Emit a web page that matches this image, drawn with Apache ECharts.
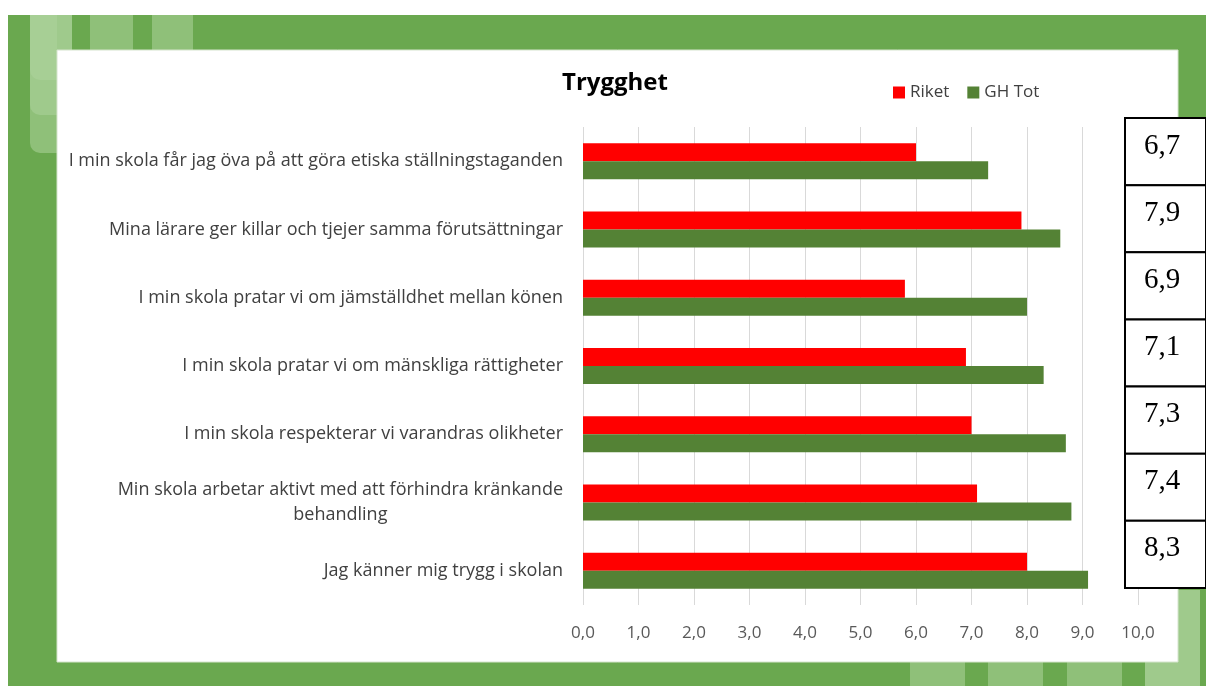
<!DOCTYPE html>
<html>
<head>
<meta charset="utf-8">
<title>Trygghet</title>
<script src="https://cdn.jsdelivr.net/npm/echarts@6/dist/echarts.min.js"></script>
<style>
  html, body { margin: 0; padding: 0; background: #fff; }
  #chart { width: 1206px; height: 686px; }
</style>
</head>
<body>
<div id="chart"></div>
<script>
// Trygghet: Riket jämfört med GH Tot

const categories = [
  'I min skola får jag öva på att göra etiska ställningstaganden',
  'Mina lärare ger killar och tjejer samma förutsättningar',
  'I min skola pratar vi om jämställdhet mellan könen',
  'I min skola pratar vi om mänskliga rättigheter',
  'I min skola respekterar vi varandras olikheter',
  'Min skola arbetar aktivt med att förhindra kränkande\nbehandling',
  'Jag känner mig trygg i skolan',
];
const riket = [6.0, 7.9, 5.8, 6.9, 7.0, 7.1, 8.0];
const ghTot = [7.3, 8.6, 8.0, 8.3, 8.7, 8.8, 9.1];

// rutorna till höger om diagrammet
const tableValues = [6.7, 7.9, 6.9, 7.1, 7.3, 7.4, 8.3];

const LABEL_FONT = 'Open Sans';
const LABEL_SIZE = 18;
const GREEN = '#6aa84f';
const LIGHT = '#8fc079';
const LIGHTER = '#9fca8c';

const comma = (v, d) => v.toFixed(d).replace('.', ',');

// dekorativ ram (grön bakgrund med ljusare rutor)
function frame() {
  const r = (x, y, w, h, fill, extra) =>
    Object.assign({ type: 'rect', z: -10, silent: true, shape: { x, y, width: w, height: h }, style: { fill } }, extra || {});
  return [
    r(8, 15, 1198, 671, GREEN),
    r(30, 15, 42, 35, LIGHTER),
    r(90, 15, 43, 35, LIGHT),
    r(152, 15, 41, 35, LIGHT),
    r(30, 15, 27, 138, LIGHT, { shape: { x: 30, y: 15, width: 27, height: 138, r: [0, 0, 0, 10] } }),
    r(30, 15, 27, 100, LIGHTER, { shape: { x: 30, y: 15, width: 27, height: 100, r: [0, 0, 0, 10] } }),
    r(30, 15, 27, 65, '#a7cf95', { shape: { x: 30, y: 15, width: 27, height: 65, r: [0, 0, 0, 10] } }),
    r(910, 662, 55, 24, LIGHT),
    r(988, 662, 55, 24, LIGHT),
    r(1067, 662, 55, 24, LIGHT),
    r(1145, 662, 55, 24, LIGHTER),
    r(1178, 590, 22, 96, LIGHTER),
    r(57, 50, 1121, 612, '#ffffff', { style: { fill: '#ffffff', stroke: '#d5e4cd', lineWidth: 1 } }),
  ];
}

const chart = echarts.init(document.getElementById('chart'), null, { renderer: 'canvas' });

chart.setOption({
  backgroundColor: '#ffffff',
  animation: false,
  graphic: frame(),
  title: {
    text: 'Trygghet',
    left: 557,
    top: 66,
    textStyle: { fontFamily: LABEL_FONT, fontSize: 24, fontWeight: 'bold', color: '#000' },
  },
  legend: {
    data: ['Riket', 'GH Tot'],
    left: 888,
    top: 79,
    itemWidth: 12,
    itemHeight: 12,
    itemGap: 18,
    icon: 'rect',
    textStyle: { fontFamily: LABEL_FONT, fontSize: 17, color: '#404040' },
  },
  grid: [
    { left: 583, right: 68, top: 127, bottom: 81 },
    { left: 1125, width: 100, top: 118, height: 470 },
  ],
  xAxis: [
    {
      type: 'value',
      gridIndex: 0,
      min: 0,
      max: 10,
      interval: 1,
      axisLine: { show: false },
      axisTick: { show: false },
      splitLine: { lineStyle: { color: '#d9d9d9', width: 1 } },
      axisLabel: {
        margin: 20,
        fontFamily: LABEL_FONT,
        fontSize: 17,
        color: '#595959',
        formatter: (v) => comma(v, 1),
      },
    },
    { type: 'value', gridIndex: 1, min: 0, max: 1, show: false },
  ],
  yAxis: [
    {
      type: 'category',
      gridIndex: 0,
      data: categories,
      inverse: true,
      axisLine: { show: false },
      axisTick: { show: false },
      axisLabel: {
        margin: 20,
        fontFamily: LABEL_FONT,
        fontSize: LABEL_SIZE,
        color: '#404040',
        lineHeight: 25,
        formatter: (v) => {
          const lines = v.split('\n');
          if (lines.length === 1) return v;
          return '{r|' + lines[0] + '}\n{c|' + lines[1] + '}';
        },
        rich: {
          r: { align: 'right', fontFamily: LABEL_FONT, fontSize: LABEL_SIZE, color: '#404040', lineHeight: 25 },
          c: { align: 'center', fontFamily: LABEL_FONT, fontSize: LABEL_SIZE, color: '#404040', lineHeight: 25 },
        },
      },
    },
    {
      type: 'category',
      gridIndex: 1,
      data: tableValues.map((_, i) => i),
      inverse: true,
      show: false,
    },
  ],
  series: [
    {
      name: 'Riket',
      type: 'bar',
      data: riket,
      barWidth: 18,
      barGap: '0%',
      itemStyle: { color: '#ff0000' },
    },
    {
      name: 'GH Tot',
      type: 'bar',
      data: ghTot,
      barWidth: 18,
      barGap: '0%',
      itemStyle: { color: '#548235' },
    },
    {
      name: 'tabell',
      type: 'custom',
      xAxisIndex: 1,
      yAxisIndex: 1,
      silent: true,
      data: tableValues.map((v, i) => [0, i, v]),
      encode: { x: 0, y: 1 },
      renderItem: (params, api) => {
        const p = api.coord([0, api.value(1)]);
        const h = api.size([0, 1])[1];
        const w = api.size([1, 0])[0];
        const top = p[1] - h / 2;
        return {
          type: 'group',
          children: [
            {
              type: 'rect',
              shape: { x: p[0], y: top, width: w, height: h },
              style: { fill: '#fff', stroke: '#000', lineWidth: 2 },
            },
            {
              type: 'text',
              style: {
                x: p[0] + 19,
                y: top + 28,
                text: comma(api.value(2), 1),
                font: '29px "Liberation Serif"',
                fill: '#000',
                verticalAlign: 'middle',
              },
            },
          ],
        };
      },
    },
  ],
});
</script>
</body>
</html>
